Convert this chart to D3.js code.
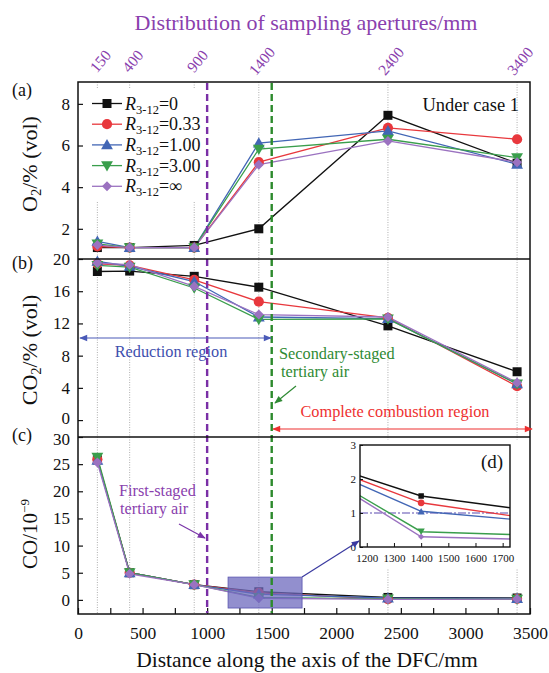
<!DOCTYPE html>
<html>
<head>
<meta charset="utf-8">
<script src="https://cdn.jsdelivr.net/npm/d3@7"></script>
<style>
body { margin: 0; background: #fff; }
</style>
</head>
<body>
<div id="chart"></div>
<script>
// sampling aperture positions (mm)
const apertures = [150, 400, 900, 1400, 2400, 3400];
const ratioLabels = ["0", "0.33", "1.00", "3.00", "\u221e"];

// O2 %(vol), one row per R3-12 value
const o2 = [
  [1.1, 1.1, 1.2, 2.0, 7.45, 5.15],
  [1.15, 1.1, 1.1, 5.2, 6.85, 6.3],
  [1.4, 1.1, 1.1, 6.12, 6.7, 5.1],
  [1.27, 1.1, 1.1, 5.83, 6.3, 5.42],
  [1.22, 1.1, 1.1, 5.08, 6.22, 5.2]
];
// CO2 %(vol)
const co2 = [
  [18.45, 18.5, 17.85, 16.5, 11.7, 6.0],
  [19.4, 19.2, 17.4, 14.7, 12.7, 4.2],
  [19.7, 19.1, 17.2, 12.8, 12.6, 4.5],
  [19.2, 19.0, 16.4, 12.5, 12.55, 4.5],
  [19.5, 19.3, 16.6, 13.1, 12.8, 4.65]
];
// CO 10^-9
const co = [
  [25.8, 5.0, 2.8, 1.5, 0.45, 0.35],
  [25.9, 5.0, 2.8, 1.3, 0.15, 0.2],
  [25.7, 5.0, 2.8, 1.05, 0.35, 0.25],
  [26.3, 5.0, 2.8, 0.45, 0.2, 0.15],
  [25.3, 4.8, 2.8, 0.3, 0.1, 0.15]
];

const colors = ["#111111", "#e8383d", "#4266b5", "#3a9e4c", "#9b72c0"];
const symbols = ["square", "circle", "up", "down", "diamond"];

const xTicks = d3.range(0, 3501, 250);
const aTicks = [2, 4, 6, 8];
const bTicks = [0, 4, 8, 12, 16, 20];
const cTicks = [0, 5, 10, 15, 20, 25, 30];
const insetXTicks = [1200, 1300, 1400, 1500, 1600, 1700];
const insetYTicks = [0, 1, 2, 3];

const W = 549, H = 673;
const FONT = '"Liberation Serif", serif';
const svg = d3.select("#chart").append("svg").attr("width", W).attr("height", H);

const x = d3.scaleLinear().domain([0, 3500]).range([78, 530]);
const ya = d3.scaleLinear().domain([0.55, 9.05]).range([259, 82]);
const yb = d3.scaleLinear().domain([-2.1, 20]).range([437, 259]);
const yc = d3.scaleLinear().domain([-2.6, 30]).range([614, 437]);

const purple = "#8a3fae", green = "#2f8a34", blueTxt = "#3e4fae", red = "#ee3030";

// arrow heads
const defs = svg.append("defs");
function arrowMarker(id, col) {
  defs.append("marker").attr("id", id).attr("viewBox", "0 0 10 10")
    .attr("refX", 9).attr("refY", 5).attr("markerWidth", 12).attr("markerHeight", 8)
    .attr("orient", "auto-start-reverse").attr("markerUnits", "userSpaceOnUse")
    .append("path").attr("d", "M0,1L10,5L0,9z").attr("fill", col);
}
arrowMarker("arBlue", "#4a5ab8");
arrowMarker("arRed", red);
arrowMarker("arGreen", green);
arrowMarker("arPurple", "#7a35a8");
arrowMarker("arNavy", "#3a3aa0");

// dotted grid lines at sampling apertures
svg.append("g").selectAll("line").data(apertures).join("line")
  .attr("x1", d => x(d)).attr("x2", d => x(d))
  .attr("y1", 82).attr("y2", 614)
  .attr("stroke", "#9a9a9a").attr("stroke-width", 0.8).attr("stroke-dasharray", "1,1.5");

// legend background hides grid
svg.append("rect").attr("x", 82).attr("y", 88).attr("width", 118).attr("height", 114).attr("fill", "#fff");

// axes
function styleAxis(g, size) {
  g.select(".domain").remove();
  g.selectAll("text").attr("font-size", size).attr("fill", "#111");
  g.selectAll("line").attr("stroke", "#111").attr("stroke-width", 1.2);
}
function leftAxis(scale, ticks) {
  const g = svg.append("g").attr("transform", "translate(78,0)")
    .call(d3.axisLeft(scale).tickValues(ticks).tickSize(-5).tickPadding(8));
  styleAxis(g, 17);
  return g;
}
leftAxis(ya, aTicks);
// nudge the touching "0" / "30" labels at the b/c border apart
leftAxis(yb, bTicks).selectAll("text").filter(d => d === 0).attr("dy", "0.22em");
leftAxis(yc, cTicks).selectAll("text").filter(d => d === 30).attr("dy", "0.45em");

const gx = svg.append("g").attr("transform", "translate(0,614)")
  .call(d3.axisBottom(x).tickValues(xTicks).tickSize(-6).tickPadding(13)
    .tickFormat(d => d % 500 === 0 ? d : ""));
styleAxis(gx, 17.5);

// top axis labels
svg.append("g").selectAll("text").data(apertures).join("text")
  .attr("transform", d => `translate(${x(d) + 3},61) rotate(-50)`)
  .attr("text-anchor", "middle").attr("dy", "0.35em")
  .attr("font-size", 15.5).attr("fill", purple).text(d => d);
svg.append("text").attr("x", 306).attr("y", 30).attr("text-anchor", "middle")
  .attr("font-size", 22).attr("fill", purple).text("Distribution of sampling apertures/mm");

// series
function marker(g, type, cx, cy, col, s) {
  let path;
  if (type === "square") path = d3.symbol(d3.symbolSquare, s * s);
  else if (type === "circle") path = d3.symbol(d3.symbolCircle, Math.PI * (s / 2 + 0.6) ** 2);
  else if (type === "up" || type === "down") path = d3.symbol(d3.symbolTriangle, s * s * 0.75);
  else path = d3.symbol(d3.symbolSquare, s * s * 0.62);
  const rot = type === "down" ? 180 : type === "diamond" ? 45 : 0;
  const dy = type === "up" ? 1 : type === "down" ? -1 : 0;
  g.append("path").attr("d", path())
    .attr("transform", `translate(${cx},${cy + dy}) rotate(${rot})`)
    .attr("fill", col);
}

function drawPanel(data, yScale) {
  const g = svg.append("g");
  data.forEach((row, i) => {
    const line = d3.line().x((d, j) => x(apertures[j])).y(d => yScale(d));
    g.append("path").datum(row).attr("d", line)
      .attr("fill", "none").attr("stroke", colors[i]).attr("stroke-width", 1.3);
  });
  data.forEach((row, i) => {
    row.forEach((v, j) => marker(g, symbols[i], x(apertures[j]), yScale(v), colors[i], 9));
  });
}
drawPanel(o2, ya);
drawPanel(co2, yb);
drawPanel(co, yc);

// shaded zoom window in panel c
svg.append("rect")
  .attr("x", x(1162)).attr("y", yc(4.2))
  .attr("width", x(1735) - x(1162)).attr("height", yc(-1.5) - yc(4.2))
  .attr("fill", "#6e69bd").attr("fill-opacity", 0.75)
  .attr("stroke", "#5a55b0").attr("stroke-width", 0.8);

// tertiary air lines
svg.append("line").attr("x1", x(1000)).attr("x2", x(1000)).attr("y1", 83).attr("y2", 613)
  .attr("stroke", "#7a2fa6").attr("stroke-width", 2.4).attr("stroke-dasharray", "7,4");
svg.append("line").attr("x1", x(1500)).attr("x2", x(1500)).attr("y1", 83).attr("y2", 613)
  .attr("stroke", "#2c8a2c").attr("stroke-width", 2.4).attr("stroke-dasharray", "7,4");

// frame and panel dividers
svg.append("rect").attr("x", 78).attr("y", 82).attr("width", 452).attr("height", 532)
  .attr("fill", "none").attr("stroke", "#111").attr("stroke-width", 1.5);
svg.append("line").attr("x1", 78).attr("x2", 530).attr("y1", 259).attr("y2", 259)
  .attr("stroke", "#111").attr("stroke-width", 1.3);
svg.append("line").attr("x1", 78).attr("x2", 530).attr("y1", 437).attr("y2", 437)
  .attr("stroke", "#111").attr("stroke-width", 1.3);

// legend
const leg = svg.append("g");
ratioLabels.forEach((lab, i) => {
  const ly = 103.5 + i * 20.7;
  leg.append("line").attr("x1", 92).attr("x2", 122).attr("y1", ly).attr("y2", ly)
    .attr("stroke", colors[i]).attr("stroke-width", 1.3);
  marker(leg, symbols[i], 107, ly, colors[i], 9);
  const t = leg.append("text").attr("x", 125).attr("y", ly + 6).attr("font-size", 18).attr("fill", "#111");
  t.append("tspan").attr("font-style", "italic").text("R");
  t.append("tspan").attr("font-size", 12.5).attr("dy", 4).text("3-12");
  t.append("tspan").attr("dy", -4).text("=" + lab);
});

svg.append("text").attr("x", 519).attr("y", 111).attr("text-anchor", "end")
  .attr("font-size", 18.5).attr("fill", "#111").text("Under case 1");

// panel letters
[["(a)", 96], ["(b)", 269], ["(c)", 441]].forEach(([t, yy]) => {
  svg.append("text").attr("x", 12).attr("y", yy).attr("font-size", 18).attr("fill", "#111").text(t);
});

// y titles
function yTitle(cy, size, build) {
  const t = svg.append("text").attr("transform", `translate(37,${cy}) rotate(-90)`)
    .attr("text-anchor", "middle").attr("font-size", size).attr("fill", "#111");
  build(t);
}
yTitle(164, 22, t => {
  t.append("tspan").text("O");
  t.append("tspan").attr("font-size", 14.5).attr("dy", 4).text("2");
  t.append("tspan").attr("dy", -4).text("/% (vol)");
});
yTitle(350, 22, t => {
  t.append("tspan").text("CO");
  t.append("tspan").attr("font-size", 14.5).attr("dy", 4).text("2");
  t.append("tspan").attr("dy", -4).text("/% (vol)");
});
yTitle(534, 21, t => {
  t.append("tspan").text("CO/10");
  t.append("tspan").attr("font-size", 13).attr("dy", -8).text("\u22129");
});

svg.append("text").attr("x", 307).attr("y", 667).attr("text-anchor", "middle")
  .attr("font-size", 21.5).attr("fill", "#111").text("Distance along the axis of the DFC/mm");

// region annotations
svg.append("line").attr("x1", 80).attr("x2", 271).attr("y1", 338).attr("y2", 338)
  .attr("stroke", "#4a5ab8").attr("stroke-width", 1.2)
  .attr("marker-start", "url(#arBlue)").attr("marker-end", "url(#arBlue)");
svg.append("text").attr("x", 171).attr("y", 357).attr("text-anchor", "middle")
  .attr("font-size", 16.3).attr("fill", blueTxt).text("Reduction region");

svg.append("text").attr("x", 279).attr("y", 359).attr("font-size", 16.3).attr("fill", green).text("Secondary-staged");
svg.append("text").attr("x", 281).attr("y", 377).attr("font-size", 16.3).attr("fill", green).text("tertiary air");
svg.append("line").attr("x1", 296).attr("y1", 386).attr("x2", 275).attr("y2", 403)
  .attr("stroke", green).attr("stroke-width", 1.2).attr("marker-end", "url(#arGreen)");

svg.append("text").attr("x", 395).attr("y", 417).attr("text-anchor", "middle")
  .attr("font-size", 16.3).attr("fill", red).text("Complete combustion region");
svg.append("line").attr("x1", 273).attr("x2", 532).attr("y1", 429).attr("y2", 429)
  .attr("stroke", red).attr("stroke-width", 1.2)
  .attr("marker-start", "url(#arRed)").attr("marker-end", "url(#arRed)");

svg.append("text").attr("x", 119).attr("y", 496).attr("font-size", 16.3).attr("fill", purple).text("First-staged");
svg.append("text").attr("x", 120).attr("y", 514).attr("font-size", 16.3).attr("fill", purple).text("tertiary air");
svg.append("line").attr("x1", 179).attr("y1", 524).attr("x2", 205).attr("y2", 538)
  .attr("stroke", "#7a35a8").attr("stroke-width", 1.2).attr("marker-end", "url(#arPurple)");

// inset (d)
const xi = d3.scaleLinear().domain([1175, 1727]).range([360, 510]);
const yi = d3.scaleLinear().domain([0, 3]).range([547, 445]);
svg.append("rect").attr("x", 352).attr("y", 440).attr("width", 168).attr("height", 128).attr("fill", "#fff");
defs.append("clipPath").attr("id", "insetClip").append("rect")
  .attr("x", 360).attr("y", 445).attr("width", 150).attr("height", 102);
const gi = svg.append("g").attr("clip-path", "url(#insetClip)");
gi.append("line").attr("x1", 360).attr("x2", 510).attr("y1", yi(1)).attr("y2", yi(1))
  .attr("stroke", "#5a4bb0").attr("stroke-width", 1.2).attr("stroke-dasharray", "8,2,2,2");
co.forEach((row, i) => {
  const line = d3.line().x((d, j) => xi(apertures[j])).y(d => yi(d));
  gi.append("path").datum(row).attr("d", line)
    .attr("fill", "none").attr("stroke", colors[i]).attr("stroke-width", 1.4);
});
co.forEach((row, i) => marker(gi, symbols[i], xi(1400), yi(row[3]), colors[i], 5.5));
svg.append("rect").attr("x", 360).attr("y", 445).attr("width", 150).attr("height", 102)
  .attr("fill", "none").attr("stroke", "#111").attr("stroke-width", 1.4);
const gix = svg.append("g").attr("transform", "translate(0,547)")
  .call(d3.axisBottom(xi).tickValues(insetXTicks).tickSize(-4).tickPadding(7).tickFormat(d3.format("d")));
styleAxis(gix, 11);
gix.selectAll("line").attr("stroke-width", 1);
const giy = svg.append("g").attr("transform", "translate(360,0)")
  .call(d3.axisLeft(yi).tickValues(insetYTicks).tickSize(-3).tickPadding(4).tickFormat(d3.format("d")));
styleAxis(giy, 11);
giy.selectAll("line").attr("stroke-width", 1);
svg.append("text").attr("x", 492).attr("y", 468).attr("text-anchor", "middle")
  .attr("font-size", 19).attr("fill", "#111").text("(d)");

// pointer from zoom window to inset
svg.append("line").attr("x1", x(1735)).attr("y1", yc(4.2)).attr("x2", 359).attr("y2", 541)
  .attr("stroke", "#3a3aa0").attr("stroke-width", 1.2).attr("marker-end", "url(#arNavy)");

// serif everywhere
svg.selectAll("text").style("font-family", FONT);
</script>
</body>
</html>
